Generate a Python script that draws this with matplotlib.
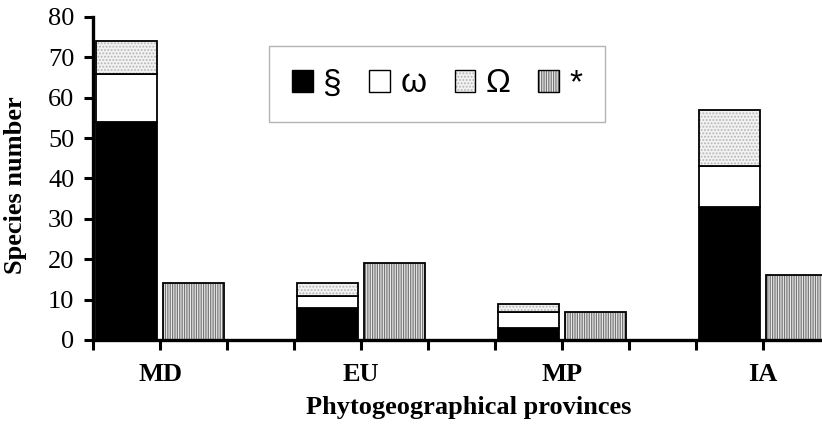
import matplotlib
matplotlib.use("Agg")
import matplotlib.pyplot as plt
from matplotlib.patches import Patch
from matplotlib.legend_handler import HandlerTuple
import numpy as np

# --- data ---
provinces = ["MD", "EU", "MP", "IA"]
sect = [54, 8, 3, 33]        # §
omega_l = [12, 3, 4, 10]     # ω
omega_u = [8, 3, 2, 14]      # Ω
star = [14, 19, 7, 16]       # *
legend_labels = ["§", "ω", "Ω", "*"]

plt.rcParams["font.family"] = ["Liberation Serif", "DejaVu Serif"]
plt.rcParams["hatch.linewidth"] = 0.9

fig = plt.figure(figsize=(8.22, 4.25), dpi=100)
# axes runs past the right edge, like the cropped original
ax = fig.add_axes([93 / 822, 85 / 425, 737 / 822, 323 / 425])

n = len(provinces)
pos = np.arange(n) * 3
w = 0.92
x_stack = pos + 0.5
x_star = pos + 1.5
b1 = np.array(sect)
b2 = b1 + np.array(omega_l)

ax.bar(x_stack, sect, w, color="black", edgecolor="black", lw=1.3, zorder=2)
ax.bar(x_stack, omega_l, w, bottom=b1, color="white", edgecolor="black", lw=1.3, zorder=2)
ax.bar(x_stack, omega_u, w, bottom=b2, color="#f2f2f2", edgecolor="#b5b5b5",
       hatch=".....", lw=0, zorder=2)
ax.bar(x_stack, omega_u, w, bottom=b2, fill=False, edgecolor="black", lw=1.3, zorder=3)
ax.bar(x_star, star, w, color="#ececec", edgecolor="#777777", hatch="|||||||", lw=0, zorder=2)
ax.bar(x_star, star, w, fill=False, edgecolor="black", lw=1.3, zorder=3)

ax.set_xlim(0, 11)
ax.set_ylim(0, 80)
ax.set_yticks(np.arange(0, 81, 10))
ax.tick_params(axis="y", direction="out", length=6.5, width=2.2, labelsize=19, pad=7)
ticks = np.arange(0, 12)
ax.set_xticks(ticks)
lbls = [""] * len(ticks)
for i, p in enumerate(provinces):
    lbls[3 * i + 1] = p
ax.set_xticklabels(lbls, fontweight="bold", fontsize=19)
ax.tick_params(axis="x", direction="out", length=7.5, width=2.2, pad=9)

for s in ("top", "right"):
    ax.spines[s].set_visible(False)
for s in ("left", "bottom"):
    ax.spines[s].set_linewidth(2.4)

ax.set_ylabel("Species number", fontweight="bold", fontsize=19)
ax.yaxis.set_label_coords(-0.09, 0.48)
ax.set_xlabel("Phytogeographical provinces", fontweight="bold", fontsize=19)
ax.xaxis.set_label_coords(0.51, -0.172)

handles = [
    Patch(facecolor="black", edgecolor="black", lw=1),
    Patch(facecolor="white", edgecolor="black", lw=1),
    (Patch(facecolor="#f2f2f2", edgecolor="#b5b5b5", hatch=".....", lw=0),
     Patch(fill=False, edgecolor="black", lw=1)),
    (Patch(facecolor="#ececec", edgecolor="#777777", hatch="|||||||", lw=0),
     Patch(fill=False, edgecolor="black", lw=1)),
]
leg = fig.legend(handles, legend_labels, loc="center", bbox_to_anchor=(437 / 822, 1 - 84 / 425),
                 ncol=4, handler_map={tuple: HandlerTuple(ndivide=1)},
                 prop={"family": ["Liberation Sans", "DejaVu Sans"], "size": 24},
                 handlelength=0.62, handleheight=0.62, handletextpad=0.3,
                 columnspacing=0.85, borderpad=0.68, fancybox=False, frameon=True)
leg.get_frame().set_edgecolor("#a0a0a0")
leg.get_frame().set_linewidth(1.0)

fig.savefig("out.png", dpi=100)
